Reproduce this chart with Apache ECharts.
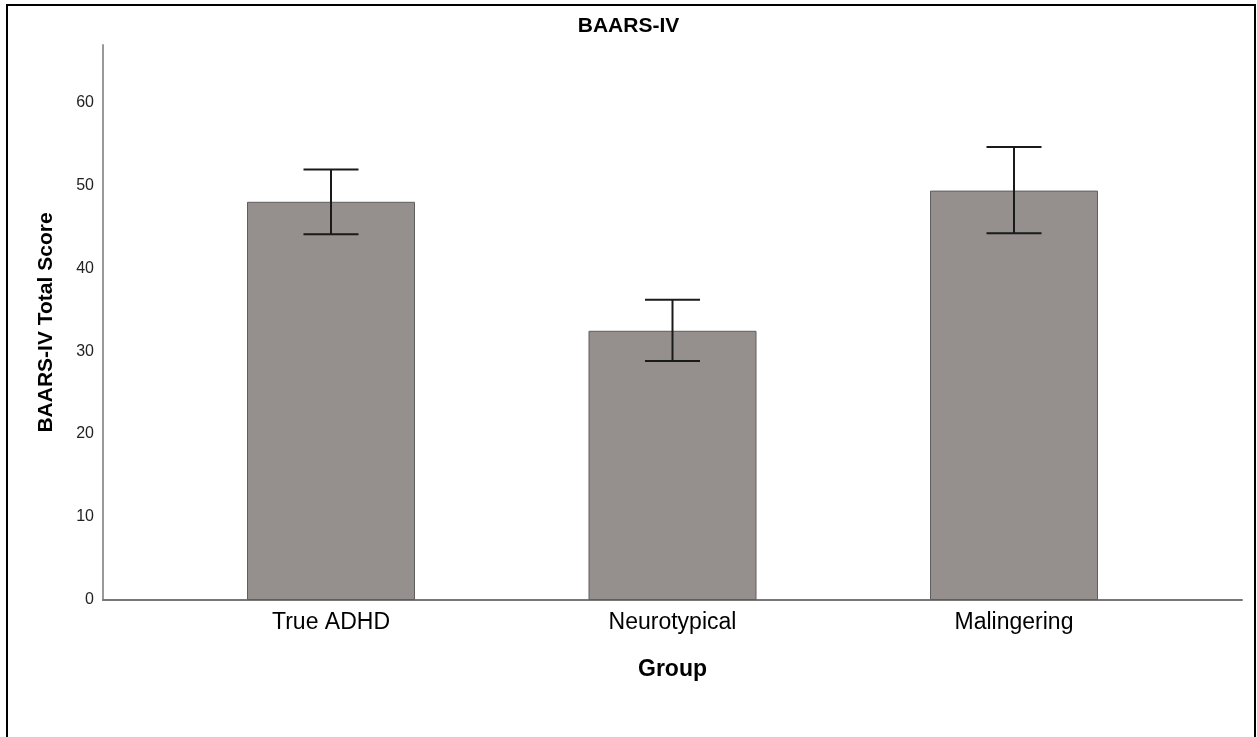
<!DOCTYPE html>
<html>
<head>
<meta charset="utf-8">
<script src="https://cdn.jsdelivr.net/npm/echarts@6/dist/echarts.min.js"></script>
<style>
  html, body { margin: 0; padding: 0; overflow: hidden; background: #fff; }
  #main { position: absolute; left: 0; top: 0; width: 1257px; height: 737px; }
  #frame { position: absolute; left: 6px; top: 4px; width: 1250px; height: 800px;
           box-sizing: border-box; border: 2px solid #000; pointer-events: none; }
</style>
</head>
<body>
<div id="main"></div>
<div id="frame"></div>
<script>
var myChart = echarts.init(document.getElementById('main'));

// groups and mean scores
var groups = ['True ADHD', 'Neurotypical', 'Malingering'];
var means = [48.0, 32.45, 49.35];
var errLow = [44.1, 28.8, 44.2];   // lower end of error bar
var errHigh = [51.9, 36.2, 54.6];  // upper end of error bar
var yMax = 66.9;

var errData = [];
for (var k = 0; k < groups.length; k++) {
    errData.push([k, errLow[k], errHigh[k]]);
}

var font = 'Liberation Sans, Arial, sans-serif';

var option = {
    animation: false,
    title: {
        text: 'BAARS-IV',
        left: 'center',
        top: 11,
        textStyle: { fontFamily: font, fontSize: 21, fontWeight: 'bold', color: '#000' }
    },
    grid: [
        // frame grid: axis lines + y labels
        { left: 103, right: 15, top: 45, bottom: 137 },
        // bar grid: narrower so the categories sit like the original
        { left: 160.25, right: 72.25, top: 45, bottom: 137 }
    ],
    xAxis: [
        {
            gridIndex: 0,
            type: 'value',
            min: 0,
            max: 1,
            name: 'Group',
            nameLocation: 'middle',
            nameGap: 58,
            nameTextStyle: { fontFamily: font, fontSize: 23, fontWeight: 'bold', color: '#000' },
            axisLine: { show: true, lineStyle: { color: '#777', width: 2 } },
            axisTick: { show: false },
            axisLabel: { show: false },
            splitLine: { show: false }
        },
        {
            gridIndex: 1,
            type: 'category',
            data: groups,
            axisLine: { show: false },
            axisTick: { show: false },
            axisLabel: { margin: 11, fontFamily: font, fontSize: 23, color: '#000' }
        }
    ],
    yAxis: [
        {
            gridIndex: 0,
            type: 'value',
            min: 0,
            max: yMax,
            interval: 10,
            name: 'BAARS-IV Total Score',
            nameLocation: 'middle',
            nameGap: 46,
            nameTextStyle: { fontFamily: font, fontSize: 21, fontWeight: 'bold', color: '#000' },
            axisLine: { show: true, lineStyle: { color: '#999', width: 2 } },
            axisTick: { show: false },
            axisLabel: {
                margin: 9, fontFamily: font, fontSize: 16, color: '#222',
                showMaxLabel: false
            },
            splitLine: { show: false }
        },
        {
            gridIndex: 1,
            type: 'value',
            min: 0,
            max: yMax,
            show: false,
            splitLine: { show: false }
        }
    ],
    series: [
        {
            type: 'bar',
            xAxisIndex: 1,
            yAxisIndex: 1,
            data: means,
            barWidth: 168,
            itemStyle: { color: '#958f8e', borderColor: '#5e5e5e', borderWidth: 1 }
        },
        {
            type: 'custom',
            xAxisIndex: 1,
            yAxisIndex: 1,
            data: errData,
            z: 10,
            renderItem: function (params, api) {
                var lo = api.coord([api.value(0), api.value(1)]);
                var hi = api.coord([api.value(0), api.value(2)]);
                var half = 27.5;
                var st = { stroke: '#1a1a1a', lineWidth: 2 };
                return {
                    type: 'group',
                    children: [
                        { type: 'line', shape: { x1: hi[0], y1: hi[1], x2: lo[0], y2: lo[1] }, style: st },
                        { type: 'line', shape: { x1: hi[0] - half, y1: hi[1], x2: hi[0] + half, y2: hi[1] }, style: st },
                        { type: 'line', shape: { x1: lo[0] - half, y1: lo[1], x2: lo[0] + half, y2: lo[1] }, style: st }
                    ]
                };
            }
        }
    ]
};
myChart.setOption(option);
</script>
</body>
</html>
